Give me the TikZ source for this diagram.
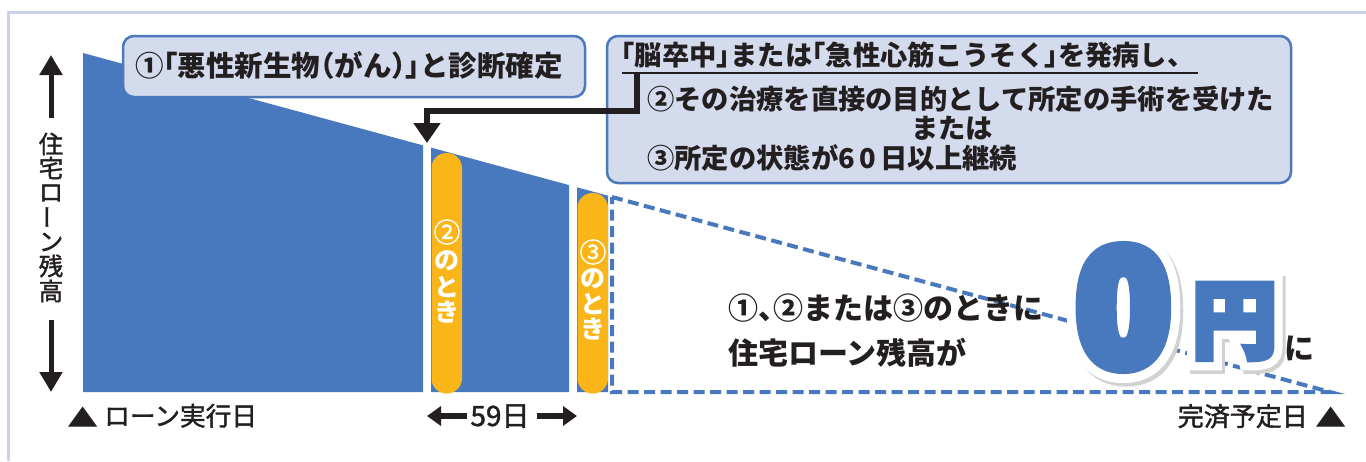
\documentclass[tikz,border=0pt]{standalone}
\usepackage{fontspec}
\newfontfamily\jp{Noto Sans CJK JP}
\newfontfamily\lsans{Liberation Sans}
\usetikzlibrary{arrows.meta}
\definecolor{lblue}{HTML}{4878BD}
\definecolor{org}{HTML}{FAB618}
\definecolor{boxfill}{HTML}{D4DBED}
\definecolor{boxline}{HTML}{4B79BC}
\definecolor{framec}{HTML}{C9D2E9}
\definecolor{ink}{HTML}{231F20}
\newcommand\ob[1]{\kern-0.5em#1}
\newcommand\cb[1]{#1\kern-0.5em}
\newcommand\fs[1]{\fontsize{#1}{#1}\selectfont}
\newcommand\med{\addfontfeature{FakeBold=1.5}}
\begin{document}
\begin{tikzpicture}[x=1pt,y=-1pt,
  jt/.style={inner sep=0pt, text=ink},
  callout/.style={fill=boxfill, draw=boxline, line width=2.5pt, rounded corners=11pt, inner sep=0pt},
  pilltxt/.style={inner sep=0pt, text=white, font=\jp\bfseries\fs{25}},
  pillnum/.style={inner sep=0pt, text=white, font=\jp\fs{27}\med},
  vlab/.style={inner sep=0pt, text=ink, font=\jp\fs{24.5}\med},
  elbow/.style={draw=ink, line width=5.5pt, -{Triangle[width=26pt,length=20pt]}},
  vaxis/.style={draw=ink, line width=5pt, -{Triangle[width=22pt,length=20pt]}},
  harrow/.style={draw=ink, line width=6pt, -{Triangle[width=19pt,length=14pt]}},
  pill/.style={fill=org, rounded corners=15pt},
  zero/.style={inner sep=0pt, font=\lsans\bfseries\fs{161}\addfontfeature{FakeBold=#1}},
  yen/.style={inner sep=0pt, font=\jp\bfseries\fs{85}\addfontfeature{FakeBold=#1}},
]
\useasboundingbox (0,0) rectangle (1366,461);
\fill[white] (0,0) rectangle (1366,461);
% frame
\draw[framec, line width=3pt] (8,461) -- (8,12) -- (1366,12);

% balance areas
\fill[lblue] (83,53) -- (423,145.4) -- (423,392) -- (83,392) -- cycle;
\fill[lblue] (431,147.6) -- (569,185.1) -- (569,392) -- (431,392) -- cycle;
\fill[lblue] (577,187.3) -- (608,195.7) -- (608,392) -- (577,392) -- cycle;
\draw[lblue, line width=4pt, dash pattern=on 11pt off 5.5pt] (612,197) -- (1330,392) -- (612,392) -- cycle;

% pills
\fill[pill] (431.5,153) rectangle (462,393.5);
\fill[pill] (577.5,193) rectangle (608,393.5);
\node[pillnum] (p2n) at (447,232) {②};
\node[pilltxt] (p2a) at (447,261) {の};
\node[pilltxt] (p2b) at (447,287) {と};
\node[pilltxt] (p2c) at (447,312) {き};
\node[pillnum] (p3n) at (593,252) {③};
\node[pilltxt] (p3a) at (593,279) {の};
\node[pilltxt] (p3b) at (593,304) {と};
\node[pilltxt] (p3c) at (593,329) {き};

% callout boxes
\node[callout, minimum width=462pt, minimum height=61pt] (b1) at (354,66.5) {};
\node[jt, anchor=base west, font=\jp\bfseries\fs{28.5}] (b1t) at (135,76.5)
  {①\ob{「}悪性新生物\ob{（}がん\cb{）}\cb{」}と診断確定};
\node[callout, minimum width=684pt, minimum height=147pt] (b2) at (949,109.5) {};
\node[jt, anchor=base west, font=\jp\bfseries\fs{27.3}] (b2a) at (621,65)
  {\ob{「}脳卒中\cb{」}または\ob{「}急性心筋こうそく\cb{」}を発病し、};
\node[jt, anchor=base west, font=\jp\bfseries\fs{27.3}] (b2b) at (647,109)
  {②その治療を直接の目的として所定の手術を受けた};
\node[jt, anchor=base, font=\jp\bfseries\fs{27.3}] (b2c) at (952,138) {または};
\node[jt, anchor=base west, font=\jp\bfseries\fs{27.3}] (b2d) at (647,168)
  {③所定の状態が6\hspace{5pt}0\hspace{4pt}日以上継続};
\coordinate (ulA) at (622,73);
\coordinate (ulB) at (1198,73);
\draw[ink, line width=1.5pt] (ulA) -- (ulB);

% elbow arrow
\coordinate (ul) at (637,72.5);
\coordinate (tgt) at (427,143);
\draw[elbow] (ul) -- ++(0,38.5) -| (tgt);

% vertical axis label
\coordinate (ua1) at (51,118);
\coordinate (ua2) at (51,55);
\draw[vaxis] (ua1) -- (ua2);
\coordinate (da1) at (51,320);
\coordinate (da2) at (51,392);
\draw[vaxis] (da1) -- (da2);
\node[vlab] (v1) at (51,144) {住};
\node[vlab] (v2) at (51,168) {宅};
\node[vlab] (v3) at (51,193) {ロ};
\node[vlab, rotate=90] (v4) at (51,217) {ー};
\node[vlab] (v5) at (51,242) {ン};
\node[vlab] (v6) at (51,266) {残};
\node[vlab] (v7) at (51,291) {高};

% bottom labels
\node[jt, font=\jp\fs{25}, xscale=1.25] (tri1) at (83,417) {▲};
\node[jt, anchor=base west, font=\jp\fs{25.7}\med] (start) at (104,425.5) {ローン実行日};
\node[jt, anchor=base east, font=\jp\fs{26}\med] (end) at (1308,426) {完済予定日};
\node[jt, font=\jp\fs{25}, xscale=1.25] (tri2) at (1331,417) {▲};
\node[jt, anchor=base, font=\jp\fs{28}\med] (d59) at (500,426) {59日};
\coordinate (la1) at (467,416);
\coordinate (la2) at (427,416);
\coordinate (ra1) at (537,416);
\coordinate (ra2) at (577,416);
\draw[harrow] (la1) -- (la2);
\draw[harrow] (ra1) -- (ra2);

% message
\node[jt, anchor=base west, font=\jp\bfseries\fs{30}] (m1) at (728,319) {①\cb{、}②または③のときに};
\node[jt, anchor=base west, font=\jp\bfseries\fs{30}] (m2) at (728,364) {住宅ローン残高が};

% 0 yen
\node[zero=23, text=black!18] (zs) at (1126.5,311) {0};
\node[yen=26, text=black!18] (ys) at (1237.5,325) {円};
\node[zero=23, text=white] (zw) at (1123.5,307.5) {0};
\node[yen=26, text=white] (yw) at (1234.5,321.5) {円};
\node[zero=11.8, text=lblue] (zero) at (1123.5,307.5) {0};
\node[yen=7, text=lblue] (yen) at (1234.5,321.5) {円};
\node[jt, font=\jp\bfseries\fs{30}] (ni) at (1299.5,348) {に};
\end{tikzpicture}
\end{document}
